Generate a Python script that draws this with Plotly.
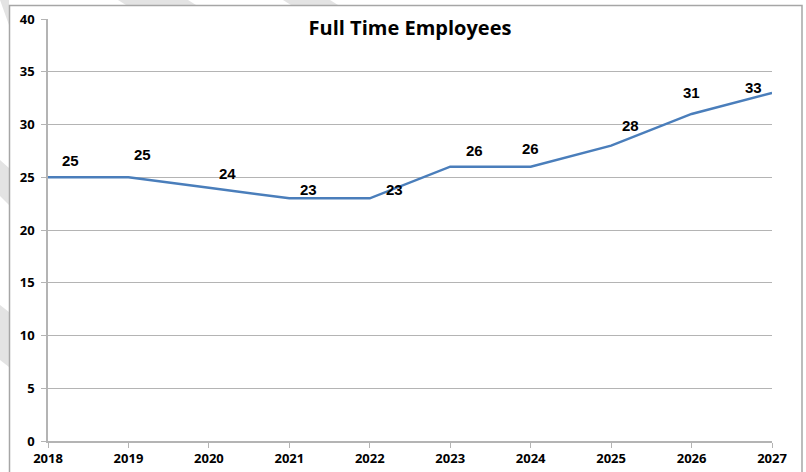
import plotly.graph_objects as go

# Headcount by year
years = [2018, 2019, 2020, 2021, 2022, 2023, 2024, 2025, 2026, 2027]
employees = [25, 25, 24, 23, 23, 26, 26, 28, 31, 33]
y_ticks = [0, 5, 10, 15, 20, 25, 30, 35, 40]

# Pixel nudges for the value labels
label_dx = [22, 14, 19, 19, 25, 24, 0, 19, 0, -19]
label_dy = [17, 23, 14, 9, 9, 16, 18, 20, 21, 5]

LINE = "#4a7ebb"
GRID = "#b4b4b4"
TICK_FONT = dict(family="Open Sans, sans-serif", size=13, color="#000000")

W, H = 806, 472
ml, mr, mt, mb = 48, 34, 19, 31
pw, ph = W - ml - mr, H - mt - mb


def px(x):
    return (x - ml) / pw


def py(y):
    return (H - mb - y) / ph


def to_paper(path):
    out = []
    toks = path.split()
    i = 0
    while i < len(toks):
        t = toks[i]
        if t in ("M", "L"):
            x = float(toks[i + 1]); y = float(toks[i + 2])
            out.append(f"{t} {px(x):.5f} {py(y):.5f}")
            i += 3
        else:
            out.append(t)
            i += 1
    return " ".join(out)


fig = go.Figure()
fig.add_trace(go.Scatter(
    x=years, y=employees, mode="lines",
    line=dict(color=LINE, width=2.5),
    hoverinfo="x+y", showlegend=False,
))

for x, y, dx, dy in zip(years, employees, label_dx, label_dy):
    fig.add_annotation(
        x=x, y=y, text=f"<b>{y}</b>", showarrow=False,
        xshift=dx, yshift=dy,
        font=dict(family="Liberation Sans, Arial", size=15, color="#000000"),
    )

# Light diagonal bands peeking out around the chart frame (pixel paths)
bands = [
    "M 0 0 L 9 0 L 9 25 Z",
    "M 0 160 L 9 168 L 9 205 L 0 196 Z",
    "M 0 305 L 9 312 L 9 367 L 0 360 Z",
    "M 118 0 L 188 0 L 196 5 L 126 5 Z",
    "M 283 0 L 330 0 L 338 5 L 291 5 Z",
]
for p in bands:
    fig.add_shape(type="path", path=to_paper(p), xref="paper", yref="paper",
                  fillcolor="#e3e3e3", line=dict(width=0), layer="below")

# Outer chart frame
fig.add_shape(type="rect", xref="paper", yref="paper",
              x0=px(9.5), x1=px(802), y0=py(5.5), y1=py(480),
              line=dict(color="#a6a6a6", width=1.5), fillcolor="rgba(0,0,0,0)",
              layer="below")

fig.update_layout(
    width=W, height=H,
    margin=dict(l=ml, r=mr, t=mt, b=mb, autoexpand=False),
    paper_bgcolor="#ffffff", plot_bgcolor="rgba(0,0,0,0)",
    title=dict(
        text="<b>Full Time Employees</b>",
        x=0.5, xref="paper", xanchor="center",
        y=1 - 28 / H, yanchor="middle",
        font=dict(family="Open Sans, sans-serif", size=20, color="#000000"),
    ),
    xaxis=dict(
        range=[2018, 2027], tickmode="array", tickvals=years,
        ticktext=[f"<b>{y}</b>" for y in years],
        showgrid=False, zeroline=False, automargin=False,
        showline=True, linecolor=GRID, linewidth=1.5,
        ticks="outside", ticklen=5, tickcolor=GRID,
        tickfont=TICK_FONT,
        fixedrange=True,
    ),
    yaxis=dict(
        range=[0, 40], tickmode="array", tickvals=y_ticks,
        ticktext=[f"<b>{v}</b>" for v in y_ticks],
        showgrid=True, gridcolor=GRID, gridwidth=1.2, zeroline=False,
        automargin=False,
        showline=True, linecolor=GRID, linewidth=1.5,
        ticks="outside", ticklen=5, tickcolor=GRID,
        ticklabelstandoff=4,
        tickfont=TICK_FONT,
        fixedrange=True,
    ),
)

fig.write_html("out.html")
